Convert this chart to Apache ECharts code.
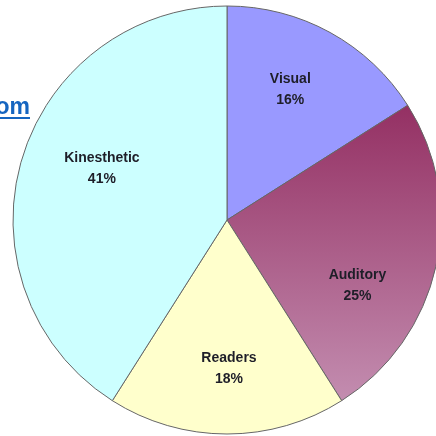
<!DOCTYPE html>
<html>
<head>
<meta charset="utf-8">
<script src="https://cdn.jsdelivr.net/npm/echarts@6/dist/echarts.min.js"></script>
<style>html,body{margin:0;padding:0;background:#fff;}#c{width:436px;height:436px;}</style>
</head>
<body>
<div id="c"></div>
<script>
const categories = ['Visual', 'Auditory', 'Readers', 'Kinesthetic'];
const values = [16, 25, 18, 41];
const colors = ['#9999FF', null, '#FFFFCC', '#CCFFFF'];
// label nudges (style only)
const labelNudge = [[-8, -1], [-14, 33], [2, 1], [17, -10]];

const chart = echarts.init(document.getElementById('c'));
const audGrad = new echarts.graphic.LinearGradient(0, 0, 0, 1, [
  {offset: 0, color: '#943063'},
  {offset: 1, color: '#C38DB0'}
]);
const fillData = categories.map((n, i) => ({
  name: n, value: values[i],
  itemStyle: {color: colors[i] || audGrad}
}));
const labelData = categories.map((n, i) => ({
  name: n, value: values[i],
  label: {offset: labelNudge[i]}
}));

chart.setOption({
  animation: false,
  graphic: [
    {type: 'text', x: 30, y: 96, style: {text: 'om', font: 'bold 23px Arial', fill: '#1565C0', align: 'right'}},
    {type: 'line', shape: {x1: 0, y1: 118, x2: 30, y2: 118}, style: {stroke: '#1565C0', lineWidth: 2}}
  ],
  series: [
    {
      type: 'pie', center: [227, 220], radius: [0, 214], startAngle: 90, clockwise: true,
      silent: true, label: {show: false}, labelLine: {show: false},
      itemStyle: {borderColor: '#666', borderWidth: 1},
      data: fillData
    },
    {
      type: 'pie', center: [227, 220], radius: [76, 214], startAngle: 90, clockwise: true,
      silent: true, labelLine: {show: false},
      itemStyle: {color: 'rgba(0,0,0,0)', borderWidth: 0},
      label: {
        show: true, position: 'inside',
        formatter: p => p.name + '\n' + p.value + '%',
        fontFamily: 'Arial', fontWeight: 'bold', fontSize: 14, lineHeight: 21, color: '#1e1e28'
      },
      data: labelData
    }
  ]
});
</script>
</body>
</html>
